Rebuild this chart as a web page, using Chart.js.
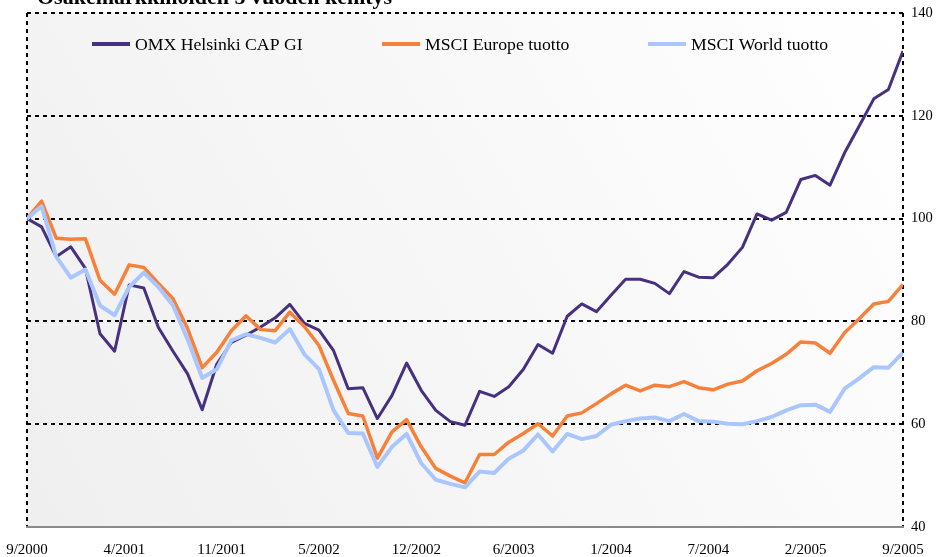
<!DOCTYPE html>
<html>
<head>
<meta charset="utf-8">
<script src="https://cdn.jsdelivr.net/npm/chart.js@4"></script>
<style>
  html, body { margin: 0; padding: 0; background: #fff; }
  #wrap { width: 942px; height: 557px; }
</style>
</head>
<body>
<div id="wrap"><canvas id="myChart" width="942" height="557"></canvas></div>
<script>
const title = 'Osakemarkkinoiden 5 vuoden kehitys';

// x labels shown under the axis (9/2000 .. 9/2005, monthly data)
const tickLabels = ['9/2000', '4/2001', '11/2001', '5/2002', '12/2002', '6/2003', '1/2004', '7/2004', '2/2005', '9/2005'];

const seriesNames = ['OMX Helsinki CAP GI', 'MSCI Europe tuotto', 'MSCI World tuotto'];

const omx = [
  100, 98.4, 92.6, 94.5, 90.3, 77.6, 74.2, 87.1, 86.5, 78.8,
  74.2, 69.8, 62.8, 71.7, 75.9, 77.3, 78.9, 80.7, 83.3, 79.6,
  78.3, 74.3, 66.9, 67.1, 61.1, 65.6, 71.9, 66.6, 62.7, 60.5,
  59.8, 66.4, 65.4, 67.3, 70.7, 75.5, 73.8, 81.0, 83.4, 81.9,
  85.1, 88.2, 88.2, 87.4, 85.4, 89.7, 88.6, 88.5, 91.1, 94.4,
  100.9, 99.7, 101.2, 107.6, 108.4, 106.5, 112.8, 118.0, 123.3, 125.1,
  132.6
];

const msciEurope = [
  100, 103.4, 96.2, 96.0, 96.1, 88.0, 85.3, 91.0, 90.5, 87.4,
  84.4, 78.6, 71.0, 74.0, 78.2, 81.1, 78.4, 78.2, 81.8, 79.0,
  75.3, 68.5, 62.1, 61.6, 53.4, 58.5, 60.9, 55.6, 51.4, 49.9,
  48.6, 54.1, 54.1, 56.5, 58.2, 60.1, 57.7, 61.6, 62.2, 64.0,
  65.9, 67.6, 66.5, 67.6, 67.3, 68.3, 67.1, 66.7, 67.8, 68.4,
  70.4, 71.8, 73.6, 76.0, 75.8, 73.8, 77.8, 80.5, 83.4, 83.9,
  87.2
];

const msciWorld = [
  100, 102.4, 92.6, 88.5, 90.1, 83.1, 81.2, 86.7, 89.5, 86.7,
  83.1, 76.5, 69.0, 70.7, 76.3, 77.5, 76.8, 75.9, 78.5, 73.6,
  70.7, 62.7, 58.3, 58.2, 51.7, 55.6, 58.1, 52.4, 49.2, 48.4,
  47.7, 50.8, 50.5, 53.3, 54.9, 58.0, 54.7, 58.1, 57.1, 57.7,
  59.9, 60.6, 61.1, 61.3, 60.6, 62.0, 60.6, 60.5, 60.1, 60.0,
  60.6, 61.4, 62.7, 63.7, 63.8, 62.4, 66.9, 68.9, 71.1, 71.0,
  73.9
];

const lastIndex = omx.length - 1;
const toPoints = arr => arr.map((v, i) => ({ x: i, y: v }));

// plot area background: light grey bottom-left to white top-right
const plotBackground = {
  id: 'plotBackground',
  beforeDraw(chart) {
    const { ctx, chartArea: a } = chart;
    const g = ctx.createLinearGradient(a.left, a.bottom, a.right, a.top);
    g.addColorStop(0, '#efefef');
    g.addColorStop(1, '#ffffff');
    ctx.save();
    ctx.fillStyle = g;
    ctx.fillRect(a.left, a.top, a.right - a.left, a.bottom - a.top);
    ctx.restore();
  }
};

// legend sits inside the plot, like the original
const insideLegend = {
  id: 'insideLegend',
  afterDatasetsDraw(chart, args, opts) {
    const ctx = chart.ctx;
    ctx.save();
    ctx.font = opts.font;
    ctx.textBaseline = 'middle';
    ctx.fillStyle = '#000';
    chart.data.datasets.forEach((ds, i) => {
      const x = opts.starts[i];
      ctx.strokeStyle = ds.borderColor;
      ctx.lineWidth = 4;
      ctx.beginPath();
      ctx.moveTo(x, opts.y);
      ctx.lineTo(x + 38, opts.y);
      ctx.stroke();
      ctx.fillText(ds.label, x + 43, opts.y + 1);
    });
    ctx.restore();
  }
};

// title is partly cut off at the top edge in the original
const cutTitle = {
  id: 'cutTitle',
  afterDraw(chart) {
    const ctx = chart.ctx;
    ctx.save();
    ctx.font = 'bold 22px "Liberation Serif", "Times New Roman", serif';
    ctx.fillStyle = '#000';
    ctx.textBaseline = 'alphabetic';
    ctx.fillText(title, 37, 4);
    ctx.restore();
  }
};

const data = {
  datasets: [{
    label: seriesNames[0],
    data: toPoints(omx),
    borderColor: '#47307f',
    borderWidth: 3,
    order: 3
  }, {
    label: seriesNames[1],
    data: toPoints(msciEurope),
    borderColor: '#f7813a',
    borderWidth: 3.5,
    order: 2
  }, {
    label: seriesNames[2],
    data: toPoints(msciWorld),
    borderColor: '#aac6ff',
    borderWidth: 4,
    order: 1
  }]
};

const config = {
  type: 'line',
  data: data,
  options: {
    responsive: false,
    animation: false,
    layout: { padding: { left: 27, top: 13, right: 0, bottom: 0 } },
    elements: {
      point: { radius: 0 },
      line: { tension: 0, borderJoinStyle: 'round', fill: false }
    },
    plugins: {
      legend: { display: false },
      tooltip: { enabled: false },
      insideLegend: {
        starts: [92, 382, 648],
        y: 44,
        font: '17.7px "Liberation Serif", "Times New Roman", serif'
      }
    },
    scales: {
      x: {
        type: 'linear',
        min: 0,
        max: lastIndex,
        afterBuildTicks: (scale) => {
          scale.ticks = tickLabels.map((_, i) => ({ value: i * lastIndex / (tickLabels.length - 1) }));
        },
        afterFit: (scale) => {
          scale.height = 30;
          scale.paddingLeft = 0;
          scale.paddingRight = 0;
        },
        ticks: {
          autoSkip: false,
          maxRotation: 0,
          padding: 14,
          color: '#000',
          font: { family: '"Liberation Serif", "Times New Roman", serif', size: 15 },
          callback: (value, index) => tickLabels[index]
        },
        grid: {
          drawTicks: false,
          lineWidth: 2,
          color: (c) => (c.index === 0 || c.index === tickLabels.length - 1) ? '#000' : 'rgba(0,0,0,0)'
        },
        border: { display: true, color: '#8a8a8a', width: 2, dash: [4, 4] }
      },
      y: {
        position: 'right',
        min: 40,
        max: 140,
        afterFit: (scale) => {
          scale.width = 39;
          scale.paddingTop = 0;
          scale.paddingBottom = 0;
        },
        ticks: {
          stepSize: 20,
          padding: 8,
          color: '#000',
          font: { family: '"Liberation Serif", "Times New Roman", serif', size: 14.5 }
        },
        grid: { drawTicks: false, lineWidth: 2, color: '#000' },
        border: { display: false, dash: [4, 4] }
      }
    }
  },
  plugins: [plotBackground, insideLegend, cutTitle]
};

const myChart = new Chart(document.getElementById('myChart').getContext('2d'), config);
</script>
</body>
</html>
